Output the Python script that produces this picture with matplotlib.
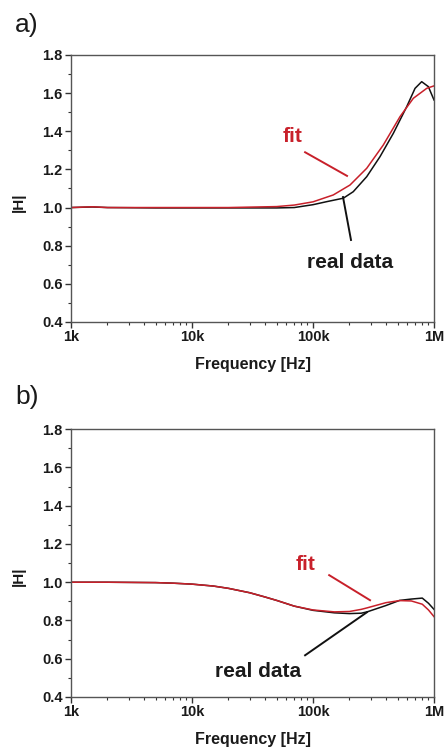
import numpy as np
import matplotlib
matplotlib.use("Agg")
import matplotlib.pyplot as plt
from matplotlib.ticker import FixedLocator, MultipleLocator, LogLocator, NullFormatter

plt.rcParams['font.family'] = ['Liberation Sans', 'DejaVu Sans']

# panel a) data
fa_real = [1e3, 1.5e3, 2e3, 5e3, 1e4, 2e4, 5e4, 7e4, 1e5, 1.3e5, 1.78e5, 2.15e5,
           2.78e5, 3.58e5, 4.61e5, 5.95e5, 6.97e5, 7.91e5, 8.98e5, 1e6]
ha_real = [1.0, 1.003, 1.0, 0.998, 0.998, 0.998, 0.998, 1.0, 1.015, 1.031, 1.049, 1.083,
           1.162, 1.267, 1.389, 1.529, 1.625, 1.660, 1.634, 1.564]
fa_fit = [1e3, 1.5e3, 2e3, 5e3, 1e4, 2e4, 5e4, 7e4, 1e5, 1.47e5, 2.02e5, 2.78e5,
          3.81e5, 5.24e5, 6.75e5, 8.7e5, 1e6]
ha_fit = [1.0, 1.004, 1.0, 1.0, 1.0, 1.0, 1.005, 1.013, 1.03, 1.066, 1.118, 1.206,
          1.328, 1.477, 1.573, 1.625, 1.638]

# panel b) data
fb = [1e3, 2e3, 5e3, 7e3, 1e4, 1.5e4, 2e4, 3e4, 4e4, 5e4, 7e4, 1e5, 1.5e5, 2e5,
      2.5e5, 2.8e5, 4e5, 5.2e5, 6.5e5, 8e5, 9e5, 1e6]
hb_real = [1.0, 1.0, 0.998, 0.995, 0.99, 0.98, 0.968, 0.945, 0.923, 0.905, 0.875, 0.853,
           0.84, 0.836, 0.838, 0.845, 0.878, 0.905, 0.912, 0.917, 0.89, 0.858]
hb_fit = [1.0, 1.0, 0.998, 0.995, 0.99, 0.98, 0.968, 0.945, 0.923, 0.905, 0.875, 0.855,
          0.845, 0.847, 0.858, 0.866, 0.893, 0.904, 0.902, 0.885, 0.855, 0.82]

xticks = [1e3, 1e4, 1e5, 1e6]
xticklabels = ['1k', '10k', '100k', '1M']

RED = '#c8202a'
SPINE = '#555555'

fig = plt.figure(figsize=(4.45, 7.5), dpi=100)
axa = fig.add_axes([0.1596, 0.5707, 0.8157, 0.356])
axb = fig.add_axes([0.1596, 0.0707, 0.8157, 0.357])


def style(ax):
    ax.set_xscale('log')
    ax.set_xlim(1e3, 1e6)
    ax.set_ylim(0.4, 1.8)
    ax.xaxis.set_major_locator(FixedLocator(xticks))
    ax.set_xticklabels(xticklabels)
    ax.xaxis.set_minor_locator(LogLocator(base=10, subs=np.arange(2, 10)))
    ax.xaxis.set_minor_formatter(NullFormatter())
    ax.yaxis.set_major_locator(MultipleLocator(0.2))
    ax.yaxis.set_minor_locator(MultipleLocator(0.1))
    ax.set_yticks(ax.get_yticks())
    ax.set_yticklabels(['%.1f' % v for v in ax.get_yticks()])
    ax.set_ylim(0.4, 1.8)
    for s in ax.spines.values():
        s.set_color(SPINE)
        s.set_linewidth(1.0)
    ax.tick_params(which='major', direction='out', length=4, width=1, color='#333333',
                   labelsize=10.5, pad=2)
    ax.tick_params(which='minor', direction='out', length=2.5, width=0.8, color='#333333')
    for lab in ax.get_xticklabels() + ax.get_yticklabels():
        lab.set_fontweight('bold')
        lab.set_color('#1a1a1a')
    ax.set_xlabel('Frequency [Hz]', fontsize=11.5, fontweight='bold', color='#1a1a1a', labelpad=9)
    ax.set_ylabel('|H|', fontsize=11, fontweight='bold', color='#1a1a1a')
    ax.yaxis.set_label_coords(-0.125, 0.45)


style(axa)
axa.plot(fa_real, ha_real, color='#111111', lw=1.1)
axa.plot(fa_fit, ha_fit, color=RED, lw=1.1)
axa.text(6.8e4, 1.37, 'fit', color=RED, fontsize=15, fontweight='bold', ha='center', va='center')
axa.plot([8.6e4, 1.91e5], [1.29, 1.166], color=RED, lw=1.4)
axa.text(2.02e5, 0.71, 'real data', color='#1a1a1a', fontsize=15, fontweight='bold',
         ha='center', va='center')
axa.plot([1.77e5, 2.06e5], [1.055, 0.83], color='#111111', lw=1.4)

style(axb)
axb.plot(fb, hb_real, color='#111111', lw=1.1)
axb.plot(fb, hb_fit, color=RED, lw=1.1)
axb.text(8.6e4, 1.095, 'fit', color=RED, fontsize=15, fontweight='bold', ha='center', va='center')
axb.plot([1.36e5, 2.96e5], [1.037, 0.906], color=RED, lw=1.4)
axb.text(3.5e4, 0.535, 'real data', color='#1a1a1a', fontsize=15, fontweight='bold',
         ha='center', va='center')
axb.plot([8.6e4, 2.79e5], [0.618, 0.843], color='#111111', lw=1.4)

fig.text(0.034, 1 - 32 / 750, 'a)', fontsize=19, color='#1a1a1a', va='baseline')
fig.text(0.034, 1 - 404 / 750, 'b)', fontsize=19, color='#1a1a1a', va='baseline')

fig.savefig('out.png', dpi=100)
